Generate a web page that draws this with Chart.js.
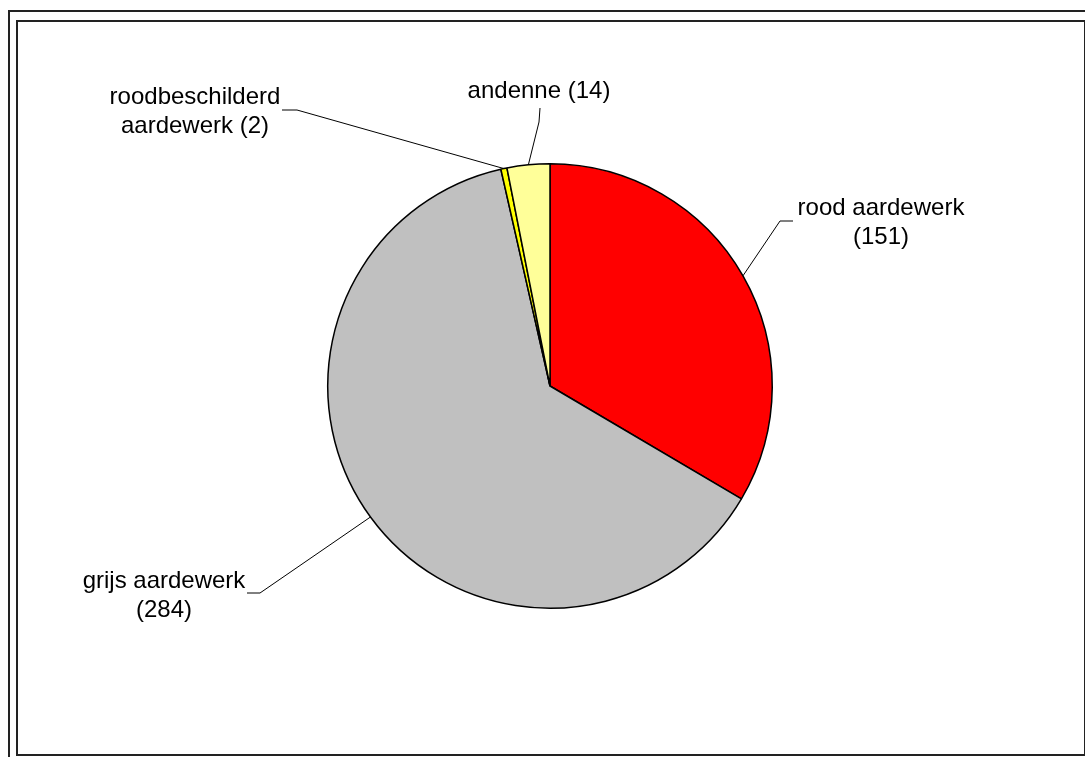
<!DOCTYPE html>
<html>
<head>
<meta charset="utf-8">
<script src="https://cdn.jsdelivr.net/npm/chart.js@4"></script>
<style>
  html, body { margin: 0; padding: 0; background: #fff; overflow: hidden; }
  #wrap { position: relative; width: 1085px; height: 757px; }
  .outer { position: absolute; left: 8px; top: 10px; width: 1100px; height: 800px;
           border-left: 2px solid #222; border-top: 2px solid #222; }
  .inner { position: absolute; left: 16px; top: 20px; width: 1066px; height: 732px;
           border: 2px solid #222; }
  canvas { position: absolute; left: 0; top: 0; }
</style>
</head>
<body>
<div id="wrap">
  <div class="outer"></div>
  <div class="inner"></div>
  <canvas id="pie" width="1085" height="757"></canvas>
</div>
<script>
// data
const categories = ["rood aardewerk", "grijs aardewerk", "roodbeschilderd aardewerk", "andenne"];
const counts = [151, 284, 2, 14];
const sliceColors = ["#FF0000", "#C0C0C0", "#FFFF00", "#FFFF99"];

// where each callout text sits, and its elbow + tick end (layout only)
const callouts = [
  { x: 881, y: 215, breakAt: 2, elbow: [780, 221], end: [793, 221] },
  { x: 164, y: 588, breakAt: 2, elbow: [260, 593], end: [247, 593] },
  { x: 195, y: 104, breakAt: 1, elbow: [297, 110], end: [282, 110] },
  { x: 539, y: 98, breakAt: null, elbow: [539, 122], end: [540, 108] },
];

const calloutPlugin = {
  id: "callouts",
  afterDatasetsDraw(chart) {
    const ctx = chart.ctx;
    const arcs = chart.getDatasetMeta(0).data;
    ctx.save();
    ctx.font = "24px 'Liberation Sans', Arial, sans-serif";
    ctx.fillStyle = "#000";
    ctx.textAlign = "center";
    ctx.textBaseline = "alphabetic";
    arcs.forEach((arc, i) => {
      const c = callouts[i];
      const mid = (arc.startAngle + arc.endAngle) / 2;
      const px = arc.x + Math.cos(mid) * arc.outerRadius;
      const py = arc.y + Math.sin(mid) * arc.outerRadius;

      ctx.strokeStyle = "#000";
      ctx.lineWidth = 1;
      ctx.beginPath();
      ctx.moveTo(px, py);
      ctx.lineTo(c.elbow[0], c.elbow[1]);
      ctx.lineTo(c.end[0], c.end[1]);
      ctx.stroke();

      const words = (categories[i] + " (" + counts[i] + ")").split(" ");
      let lines = [words.join(" ")];
      if (c.breakAt) {
        lines = [words.slice(0, c.breakAt).join(" "), words.slice(c.breakAt).join(" ")];
      }
      lines.forEach((ln, k) => ctx.fillText(ln, c.x, c.y + k * 28.5));
    });
    ctx.restore();
  }
};

new Chart(document.getElementById("pie"), {
  type: "pie",
  data: {
    labels: categories,
    datasets: [{
      data: counts,
      backgroundColor: sliceColors,
      borderColor: "#000",
      borderWidth: 1.5,
    }]
  },
  options: {
    responsive: false,
    animation: false,
    layout: { padding: { left: 327, right: 312, top: 163, bottom: 148 } },
    plugins: {
      legend: { display: false },
      tooltip: { enabled: false },
    },
  },
  plugins: [calloutPlugin],
});
</script>
</body>
</html>
